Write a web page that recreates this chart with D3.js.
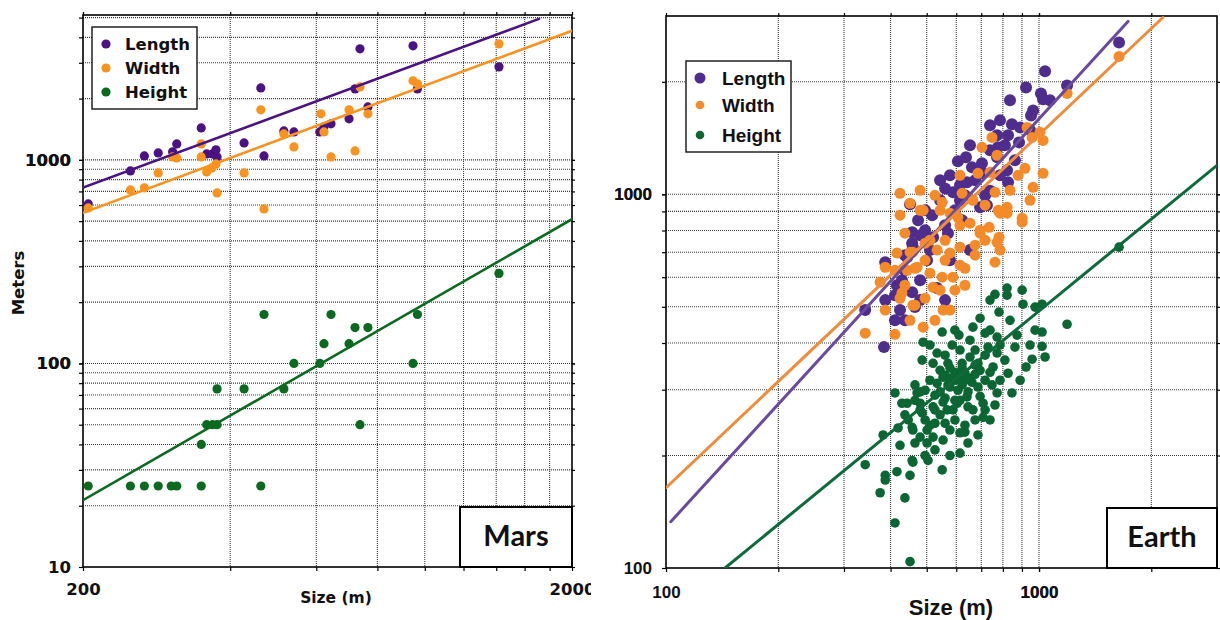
<!DOCTYPE html>
<html>
<head>
<meta charset="utf-8">
<script src="https://cdn.jsdelivr.net/npm/d3@7"></script>
<style>
  body { margin: 0; background: #fff; }
</style>
</head>
<body>
<svg id="chart" width="1220" height="620"></svg>
<script>
'use strict';
// two log-log scatter panels: bedform size vs length / width / height (Mars, Earth)

// ---------- Mars data (size m, meters) ----------
var marsLength = [[205,608],[250,883],[267,1046],[285,1082],[305,1095],[311,1198],[349,1436],[358,1070],
  [368,1070],[374,1120],[376,1034],[427,1212],[462,2258],[469,1046],[515,1388],[540,1372],[610,1372],
  [622,1453],[643,1503],[700,1591],[720,2233],[737,3512],[765,1821],[946,3633],[966,2233],[1418,2864]];
var marsWidth = [[205,581],[250,712],[267,729],[285,863],[305,1034],[311,1023],[349,1198],[349,1034],
  [358,873],[367,913],[374,955],[376,688],[427,863],[462,1761],[469,574],[515,1342],[540,1158],
  [613,1683],[622,1372],[643,1034],[700,1761],[720,1107],[737,2284],[765,1683],[946,2445],[966,2363],[1418,3715]];
var marsHeight = [[205,25],[250,25],[267,25],[285,25],[303,25],[311,25],[349,25],[349,40],[358,50],
  [368,50],[376,50],[376,75],[427,75],[462,25],[469,174],[515,75],[540,100],[610,100],[622,125],
  [643,174],[700,125],[720,150],[737,50],[765,150],[946,100],[966,174],[1418,277]];
var marsLengthFit = [[200,731],[1712,4930]];
var marsWidthFit = [[200,549],[2000,4306]];
var marsHeightFit = [[200,21.3],[2000,511]];

var marsXDomain = [200, 2000];
var marsYDomain = [10, 5150];
var marsXGrid = [400,600,800,1000,1200,1400,1600,1800];
var marsYGrid = [20,30,40,50,60,70,80,90,100,200,300,400,500,600,700,800,900,1000,2000,3000,4000,5000];
var marsXLabels = [200, 2000];
var marsYLabels = [10, 100, 1000];

// ---------- Earth data ----------
var earthLength = [[1639,2549],[1038,2133],[923,1932],[1189,1956],[1012,1862],[1025,1795],[964,1677],
  [952,1626],[846,1539],[890,1510],[826,1438],[772,1438],[776,1336],[884,1377],[606,1225],[637,1256],
  [703,1210],[661,1181],[821,1159],[772,1256],[560,1037],[588,1012],[451,940],[641,1077],[708,1138],
  [826,1077],[517,879],[695,923],[725,935],[570,787],[520,767],[457,740],[622,852],[474,852],[457,547],
  [429,589],[480,521],[533,561],[501,666],[443,678],[457,791],[437,687],[459,722],[387,658],[416,571],
  [387,521],[465,499],[342,490],[384,390],[543,1090],[614,964],[739,1022],[495,801],[577,666],
  [653,709],[424,490],[411,460],[437,460],[560,521],
  [739,1311],[674,1090],[614,1057],[577,1124],[717,994],[786,1124],[862,1233],[810,1352],[946,1483],
  [786,1577],[653,1352],[543,964],[495,906],[560,826],[480,777],[510,709],[437,626],[480,589],[411,537],
  [595,906],[633,994],[836,1784],[1070,1784],[739,1530]];
var earthWidth = [[1639,2339],[1189,1862],[1006,1465],[1025,1394],[958,1420],[929,1510],[748,1420],
  [1025,1138],[964,1044],[917,1174],[879,1124],[703,1336],[772,1272],[686,1138],[614,1124],[739,1145],
  [526,994],[489,906],[451,946],[550,952],[577,890],[622,1006],[665,964],[762,1012],[821,923],[786,890],
  [901,863],[424,1006],[543,906],[606,868],[653,837],[695,801],[735,816],[777,906],[821,890],[901,842],
  [772,744],[781,767],[762,658],[437,787],[459,700],[495,740],[533,709],[577,696],[614,722],[633,634],
  [588,600],[550,600],[510,615],[471,638],[443,626],[520,564],[495,527],[553,490],[489,441],[465,505],
  [429,544],[695,787],[674,731],[480,906],[416,696],[451,700],[387,638],[375,582],[465,634],[424,527],
  [387,490],[459,505],[342,425],[411,422],
  [510,753],[560,666],[614,646],[674,687],[717,753],[543,554],[595,554],[633,571],[577,490],[526,460],
  [451,460],[437,571],[411,626],[495,666],[614,826],[560,753],[717,935],[836,1025],[946,964],[786,709],
  [480,1025],[424,879]];
var earthHeight = [[1639,722],[1189,449],[1019,508],[976,499],[906,508],[901,554],[821,561],[821,537],
  [762,540],[781,484],[695,466],[665,441],[610,420],[550,428],[739,433],[772,415],[873,420],[1019,428],
  [946,395],[1019,392],[1038,367],[958,362],[923,345],[826,332],[862,390],[786,395],[772,376],[717,425],
  [585,395],[533,376],[489,402],[486,360],[520,353],[570,353],[622,353],[653,367],[686,353],[730,390],
  [753,345],[633,332],[595,318],[553,324],[533,312],[577,305],[622,309],[661,314],[695,338],[686,305],
  [748,309],[772,294],[846,294],[641,287],[595,281],[553,278],[520,270],[480,296],[465,281],[443,276],
  [429,276],[708,276],[665,265],[588,265],[486,260],[717,265],[645,270],[480,276],[526,265],[567,265],
  [603,276],[708,253],[446,249],[495,249],[526,244],[560,244],[459,234],[501,234],[577,234],[633,231],
  [480,224],[520,224],[553,220],[614,230],[686,227],[465,216],[501,216],[645,216],[577,200],[614,203],
  [457,194],[504,194],[550,183],[437,154],[451,104],[419,237],[382,227],[457,238],[459,192],[416,181],
  [387,177],[387,172],[342,189],[375,159],[411,132],[411,294],[471,294],
  [560,328],[577,322],[595,334],[614,326],[633,318],[653,322],[674,330],[570,309],[606,299],[645,296],
  [543,296],[526,290],[560,285],[717,318],[739,334],[695,288],[614,281],[577,343],[622,343],[674,349],
  [543,338],[510,318],[495,299],[465,309],[480,265],[510,241],[543,257],[595,249],[633,241],[674,249],
  [739,249],[762,273],[786,318],[810,360],[717,371],[674,383],[614,383],[560,371],[510,395],[437,257],
  [424,213],[451,177],[495,200],[526,207],[890,318],[976,433],[836,460],[739,521],[653,407],[595,433]];
var earthLengthFit = [[103,133],[1732,2901]];
var earthWidthFit = [[100,164],[2148,2972]];
var earthHeightFit = [[144,100],[3000,1195]];

var earthXDomain = [100, 3000];
var earthYDomain = [100, 3000];
var earthXGrid = [200,300,400,500,600,700,800,900,1000,2000];
var earthYGrid = [200,300,400,500,600,700,800,900,1000,2000];
var earthXLabels = [100, 1000];
var earthYLabels = [100, 1000];

var seriesNames = ["Length", "Width", "Height"];

var svg = d3.select("#chart");
var defs = svg.append("defs");

function drawPanel(p) {
    var clipId = "clip-" + p.name;
    defs.append("clipPath").attr("id", clipId)
        .append("rect").attr("x", p.left).attr("y", p.top)
        .attr("width", p.right - p.left).attr("height", p.bottom - p.top);
    defs.append("clipPath").attr("id", clipId + "-outer")
        .append("rect").attr("x", p.outer[0]).attr("y", 0)
        .attr("width", p.outer[1] - p.outer[0]).attr("height", 620);

    var g = svg.append("g").attr("clip-path", "url(#" + clipId + "-outer)");
    var x = d3.scaleLog().domain(p.xDomain).range([p.left, p.right]);
    var y = d3.scaleLog().domain(p.yDomain).range([p.bottom, p.top]);

    // dotted grid
    var grid = g.append("g").attr("stroke", "#3a3a3a").attr("stroke-width", 1.1).attr("stroke-dasharray", "1,1");
    grid.selectAll("line.v").data(p.xGrid).enter().append("line").attr("class", "v")
        .attr("x1", function(d) { return x(d); }).attr("x2", function(d) { return x(d); })
        .attr("y1", p.top).attr("y2", p.bottom);
    grid.selectAll("line.h").data(p.yGrid).enter().append("line").attr("class", "h")
        .attr("y1", function(d) { return y(d); }).attr("y2", function(d) { return y(d); })
        .attr("x1", p.left).attr("x2", p.right);

    // axes (ticks on all four sides)
    var xt = p.xGrid.concat(p.xLabels), yt = p.yGrid.concat(p.yLabels);
    function fmt(labels) { return function(d) { return labels.indexOf(d) >= 0 ? d : ""; }; }
    var axB = g.append("g").attr("transform", "translate(0," + p.bottom + ")")
        .call(d3.axisBottom(x).tickValues(xt).tickFormat(fmt(p.xLabels)).tickSize(4).tickPadding(p.xPad));
    var axL = g.append("g").attr("transform", "translate(" + p.left + ",0)")
        .call(d3.axisLeft(y).tickValues(yt).tickFormat(fmt(p.yLabels)).tickSize(4).tickPadding(p.yPad));
    g.append("g").attr("transform", "translate(0," + p.top + ")")
        .call(d3.axisTop(x).tickValues(xt).tickFormat("").tickSize(3));
    g.append("g").attr("transform", "translate(" + p.right + ",0)")
        .call(d3.axisRight(y).tickValues(yt).tickFormat("").tickSize(3));
    g.selectAll(".domain").remove();
    g.selectAll(".tick line").attr("stroke", "#000").attr("stroke-width", 1.2);
    [axB, axL].forEach(function(a) {
        a.selectAll("text").attr("fill", "#111")
            .style("font-family", p.tickFont).style("font-weight", "bold").style("font-size", p.tickSize + "px");
    });

    // frame
    g.append("rect").attr("x", p.left).attr("y", p.top)
        .attr("width", p.right - p.left).attr("height", p.bottom - p.top)
        .attr("fill", "none").attr("stroke", "#000").attr("stroke-width", 1.6);

    // points
    var pts = g.append("g");
    p.series.forEach(function(s) {
        pts.append("g").selectAll("circle").data(s.data).enter().append("circle")
            .attr("cx", function(d) { return x(d[0]); })
            .attr("cy", function(d) { return y(d[1]); })
            .attr("r", s.r)
            .attr("fill", s.color);
    });

    // fit lines
    var line = d3.line().x(function(d) { return x(d[0]); }).y(function(d) { return y(d[1]); });
    var lines = g.append("g").attr("clip-path", "url(#" + clipId + ")");
    p.series.forEach(function(s) {
        lines.append("path").datum(s.fit).attr("d", line)
            .attr("fill", "none").attr("stroke", s.lineColor).attr("stroke-width", p.lineWidth)
            .attr("stroke-linecap", "round");
    });

    // legend
    var lg = g.append("g");
    lg.append("rect").attr("x", p.legend.x).attr("y", p.legend.y)
        .attr("width", p.legend.w).attr("height", p.legend.h)
        .attr("fill", "#fff").attr("stroke", "#222").attr("stroke-width", 1.5);
    p.series.forEach(function(s, i) {
        var cy = p.legend.rows[i];
        lg.append("circle").attr("cx", p.legend.mx).attr("cy", cy).attr("r", s.lr).attr("fill", s.color);
        lg.append("text").attr("x", p.legend.tx).attr("y", cy).attr("dy", "0.36em")
            .style("font-family", p.legend.font).style("font-weight", "bold")
            .style("font-size", p.legend.size + "px").attr("fill", "#111")
            .text(seriesNames[i]);
    });

    // planet label box
    g.append("rect").attr("x", p.tag.x).attr("y", p.tag.y).attr("width", p.right - p.tag.x)
        .attr("height", p.bottom - p.tag.y).attr("fill", "#fff").attr("stroke", "#000").attr("stroke-width", 2);
    g.append("text").attr("x", (p.tag.x + p.right) / 2).attr("y", p.tag.base)
        .attr("text-anchor", "middle").style("font-family", "Lato, 'Open Sans', sans-serif")
        .style("font-weight", "bold").style("font-size", p.tag.size + "px").attr("fill", "#111")
        .text(p.tag.text);

    // axis titles
    g.append("text").attr("x", p.xTitle.x).attr("y", p.xTitle.y).attr("text-anchor", "middle")
        .style("font-family", p.tickFont).style("font-weight", "bold")
        .style("font-size", p.xTitle.size + "px").attr("fill", "#111").text("Size (m)");
    if (p.yTitle) {
        g.append("text").attr("transform", "translate(" + p.yTitle.x + "," + p.yTitle.y + ") rotate(-90)")
            .attr("text-anchor", "middle")
            .style("font-family", p.tickFont).style("font-weight", "bold")
            .style("font-size", p.yTitle.size + "px").attr("fill", "#111").text("Meters");
    }
}

drawPanel({
    name: "mars", outer: [0, 591],
    left: 83, right: 572, top: 15, bottom: 567,
    xDomain: marsXDomain, yDomain: marsYDomain,
    xGrid: marsXGrid, yGrid: marsYGrid, xLabels: marsXLabels, yLabels: marsYLabels,
    xPad: 12, yPad: 8, tickFont: "'DejaVu Sans', sans-serif", tickSize: 16.5, lineWidth: 2.6,
    series: [
        {data: marsLength, fit: marsLengthFit, color: "#4a1282", lineColor: "#4a1282", r: 4.6, lr: 4.6},
        {data: marsWidth, fit: marsWidthFit, color: "#f7931e", lineColor: "#f7931e", r: 4.6, lr: 4.6},
        {data: marsHeight, fit: marsHeightFit, color: "#0b6a1f", lineColor: "#0b6a1f", r: 4.6, lr: 4.6}
    ],
    legend: {x: 92, y: 27, w: 105, h: 82, mx: 106, tx: 125, rows: [44, 68, 92],
             font: "'DejaVu Sans', sans-serif", size: 16.5},
    tag: {x: 460, y: 507, base: 546, size: 29, text: "Mars"},
    xTitle: {x: 336, y: 603, size: 15.5},
    yTitle: {x: 24, y: 283, size: 16.5}
});

drawPanel({
    name: "earth", outer: [600, 1220],
    left: 666, right: 1217, top: 16, bottom: 568,
    xDomain: earthXDomain, yDomain: earthYDomain,
    xGrid: earthXGrid, yGrid: earthYGrid, xLabels: earthXLabels, yLabels: earthYLabels,
    xPad: 14, yPad: 10, tickFont: "'Liberation Sans', Arial, sans-serif", tickSize: 17, lineWidth: 3,
    series: [
        {data: earthLength, fit: earthLengthFit, color: "#4f2d8c", lineColor: "#6a4a9e", r: 6, lr: 5.5},
        {data: earthWidth, fit: earthWidthFit, color: "#f58a28", lineColor: "#f08c3a", r: 5.5, lr: 4.3},
        {data: earthHeight, fit: earthHeightFit, color: "#0c6634", lineColor: "#0e6a3a", r: 4.8, lr: 4.3}
    ],
    legend: {x: 686, y: 61, w: 105, h: 91, mx: 700, tx: 722, rows: [78, 105, 135],
             font: "'Liberation Sans', Arial, sans-serif", size: 19},
    tag: {x: 1107, y: 508, base: 547, size: 29, text: "Earth"},
    xTitle: {x: 951, y: 615, size: 22}
});
</script>
</body>
</html>
